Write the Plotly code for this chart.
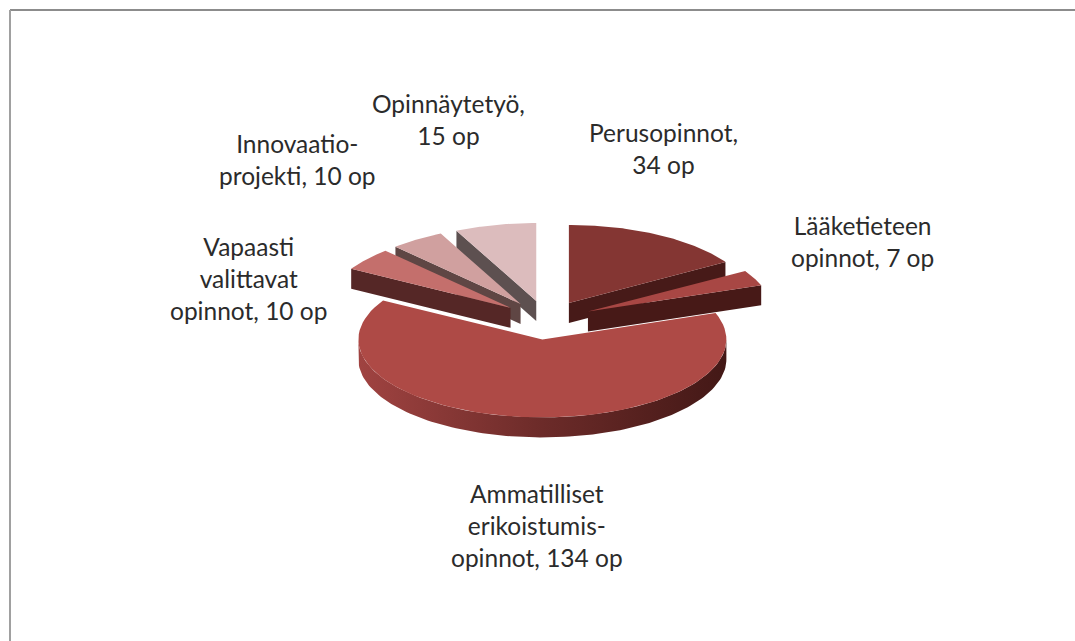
import numpy as np
import plotly.graph_objects as go

labels = [
    "Perusopinnot,<br>34 op",
    "Lääketieteen<br>opinnot, 7 op",
    "Ammatilliset<br>erikoistumis-<br>opinnot, 134 op",
    "Vapaasti<br>valittavat<br>opinnot, 10 op",
    "Innovaatio-<br>projekti, 10 op",
    "Opinnäytetyö,<br>15 op",
]
values = [34, 7, 134, 10, 10, 15]
top_colors = ["#843633", "#a84744", "#ae4a46", "#c46f6c", "#d0a09f", "#dcbcbd"]
side_colors = ["#471a18", "#471917", None, "#552726", "#5f4644", "#5d5050"]
label_x = [663, 862, 537, 248, 297, 448]
label_y = [148, 241, 525, 278, 159, 119]

# tilted pie geometry, in page pixels
CX, CY = 546.5, 320
RX, RY = 184, 78
DEPTH = 20
PULL = 0.25


def pt(theta, r=1.0):
    return RX * r * np.sin(theta), -RY * r * np.cos(theta)


def add_poly(fig, xs, ys, color, **kw):
    fig.add_trace(
        go.Scatter(
            x=xs, y=ys, mode="lines", fill="toself", fillcolor=color,
            line=dict(width=0, color=color), hoverinfo="skip", **kw,
        )
    )


edges = np.radians(np.concatenate([[0], np.cumsum(values)]) / sum(values) * 360)
fig = go.Figure()

# back slices first, the big front slice goes over them
for i in [5, 4, 3, 0, 1, 2]:
    a0, a1 = edges[i], edges[i + 1]
    ox, oy = pt((a0 + a1) / 2, PULL)
    x0, y0 = CX + ox, CY + oy
    t = np.linspace(a0, a1, 80)
    ax, ay = pt(t)
    if i == 2:
        # rim of the front slice, only the part facing us
        tr = np.linspace(np.pi / 2, 3 * np.pi / 2, 120)
        rx, ry = pt(tr)
        fig.add_trace(
            go.Scatter(
                x=np.concatenate([x0 + rx, (x0 + rx)[::-1]]),
                y=np.concatenate([y0 + ry, (y0 + ry + DEPTH)[::-1]]),
                mode="lines", fill="toself", line=dict(width=0), hoverinfo="skip",
                fillgradient=dict(
                    type="horizontal",
                    colorscale=[[0, "#a04341"], [0.5, "#6c2b29"], [1, "#431816"]],
                ),
            )
        )
    else:
        # cut face turned to the viewer
        edge = a1 if i < 2 else a0
        ex, ey = pt(edge)
        add_poly(
            fig,
            [x0, x0 + ex, x0 + ex, x0, x0],
            [y0, y0 + ey, y0 + ey + DEPTH, y0 + DEPTH, y0],
            side_colors[i],
        )
    add_poly(
        fig,
        np.concatenate([[x0], x0 + ax, [x0]]),
        np.concatenate([[y0], y0 + ay, [y0]]),
        top_colors[i],
    )

annotations = [
    dict(
        x=x, y=y, text=t, showarrow=False, xanchor="center", yanchor="middle",
        font=dict(family="Lato", size=24.5, color="#2b2b2b"),
    )
    for t, x, y in zip(labels, label_x, label_y)
]

fig.update_layout(
    width=1075,
    height=641,
    margin=dict(l=0, r=0, t=0, b=0),
    paper_bgcolor="white",
    plot_bgcolor="white",
    showlegend=False,
    annotations=annotations,
    xaxis=dict(visible=False, range=[0, 1075], fixedrange=True),
    yaxis=dict(visible=False, range=[641, 0], fixedrange=True),
    shapes=[
        dict(type="line", x0=10, x1=1075, y0=10, y1=10, line=dict(color="#8c8c8c", width=2)),
        dict(type="line", x0=10, x1=10, y0=10, y1=641, line=dict(color="#a0a0a0", width=2)),
    ],
)

fig.write_html(
    "out.html",
    config={"displayModeBar": False},
    post_script="document.body.style.margin='0';document.body.style.overflow='hidden';",
)
